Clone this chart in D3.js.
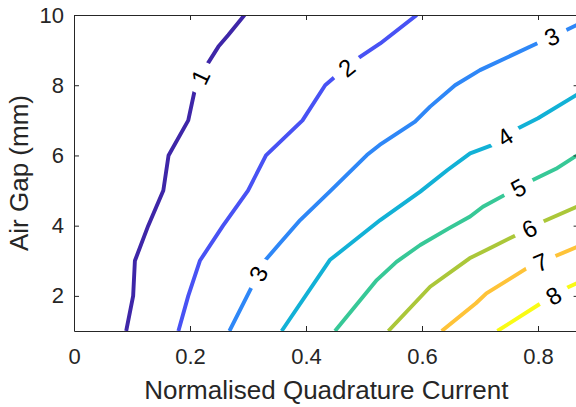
<!DOCTYPE html>
<html>
<head>
<meta charset="utf-8">
<script src="https://cdn.jsdelivr.net/npm/d3@7"></script>
<style>
  html, body { margin: 0; padding: 0; background: #fff; }
  svg { display: block; }
  text { font-family: "Liberation Sans", Arial, Helvetica, sans-serif; }
</style>
</head>
<body>
<svg id="chart" width="576" height="407"></svg>
<script>
// Contour levels and their parula colours
const levels = [1, 2, 3, 4, 5, 6, 7, 8];
const levelColors = ["#3e26a8", "#4852f4", "#2e87f7", "#12b1d6", "#37c897", "#abc739", "#fec338", "#f9fb15"];

// Contour paths: [normalised quadrature current, air gap (mm)]
const contour1 = [[0.090,1],[0.102,2],[0.105,3],[0.128,4],[0.154,5],[0.163,6],[0.197,7],[0.210,8],[0.230,8.6],[0.249,9.1],[0.266,9.43],[0.294,10]];
const contour2 = [[0.180,1],[0.197,2],[0.217,3],[0.257,4],[0.300,5],[0.331,6],[0.394,7],[0.433,8],[0.450,8.24],[0.490,8.77],[0.528,9.19],[0.591,10]];
const contour3 = [[0.268,1],[0.306,2.24],[0.329,3.0],[0.355,3.5],[0.390,4.16],[0.444,5.02],[0.505,6.01],[0.527,6.3],[0.588,6.96],[0.614,7.39],[0.657,8.0],[0.700,8.43],[0.798,9.19],[0.849,9.57],[0.870,9.74]];
const contour4 = [[0.358,1],[0.441,3.02],[0.470,3.40],[0.528,4.16],[0.597,4.97],[0.644,5.585],[0.683,6.06],[0.722,6.30],[0.765,6.77],[0.800,7.06],[0.870,7.76]];
const contour5 = [[0.450,1],[0.522,2.45],[0.556,2.97],[0.597,3.45],[0.647,3.93],[0.683,4.26],[0.705,4.54],[0.742,4.87],[0.791,5.30],[0.831,5.62],[0.870,6.03]];
const contour6 = [[0.542,1],[0.614,2.26],[0.682,3.07],[0.717,3.36],[0.762,3.73],[0.808,4.11],[0.870,4.56]];
const contour7 = [[0.634,1],[0.693,1.79],[0.711,2.07],[0.781,2.79],[0.828,3.12],[0.870,3.41]];
const contour8 = [[0.730,1],[0.805,1.79],[0.848,2.22],[0.870,2.38]];
const contours = [contour1, contour2, contour3, contour4, contour5, contour6, contour7, contour8];

// Inline labels: [level, x, y] where each label sits on its contour
const contourLabels = [[1,0.220,8.21],[2,0.470,8.50],[3,0.318,2.63],[3,0.824,9.38],[4,0.743,6.53],[5,0.766,5.09],[6,0.785,3.92],[7,0.805,2.95],[8,0.827,2.00]];

const xTicks = [0, 0.2, 0.4, 0.6, 0.8];
const yTicks = [2, 4, 6, 8, 10];
const xDomain = [0, 0.87];
const yDomain = [1, 10];
const xTitle = "Normalised Quadrature Current";
const yTitle = "Air Gap (mm)";

const svg = d3.select("#chart");
const axisColor = "#262626";
const plot = { left: 74, right: 578.6, top: 15, bottom: 331 };

const x = d3.scaleLinear().domain(xDomain).range([plot.left, plot.right]);
const y = d3.scaleLinear().domain(yDomain).range([plot.bottom, plot.top]);

const defs = svg.append("defs");
defs.append("clipPath").attr("id", "plot-clip")
  .append("rect")
  .attr("x", plot.left).attr("y", plot.top)
  .attr("width", plot.right - plot.left).attr("height", plot.bottom - plot.top);

// Work out where each label sits and its orientation along the line
function screenPts(c) { return c.map(d => [x(d[0]), y(d[1])]); }
function labelGeometry(pts, px, py) {
  const cum = [0];
  for (let i = 1; i < pts.length; i++) {
    cum.push(cum[i - 1] + Math.hypot(pts[i][0] - pts[i - 1][0], pts[i][1] - pts[i - 1][1]));
  }
  let best = { d: Infinity, L: 0 };
  for (let i = 1; i < pts.length; i++) {
    const [ax, ay] = pts[i - 1], [bx, by] = pts[i];
    const dx = bx - ax, dy = by - ay, len2 = dx * dx + dy * dy;
    let t = len2 ? ((px - ax) * dx + (py - ay) * dy) / len2 : 0;
    t = Math.max(0, Math.min(1, t));
    const qx = ax + t * dx, qy = ay + t * dy;
    const d = Math.hypot(px - qx, py - qy);
    if (d < best.d) best = { d, L: cum[i - 1] + t * Math.sqrt(len2), qx, qy };
  }
  function at(L) {
    L = Math.max(0, Math.min(cum[cum.length - 1], L));
    for (let i = 1; i < pts.length; i++) {
      if (L <= cum[i]) {
        const t = (L - cum[i - 1]) / (cum[i] - cum[i - 1] || 1);
        return [pts[i - 1][0] + t * (pts[i][0] - pts[i - 1][0]), pts[i - 1][1] + t * (pts[i][1] - pts[i - 1][1])];
      }
    }
    return pts[pts.length - 1];
  }
  const p1 = at(best.L - 15), p2 = at(best.L + 15);
  let ang = Math.atan2(p2[1] - p1[1], p2[0] - p1[0]) * 180 / Math.PI;
  if (ang > 90) ang -= 180;
  if (ang < -90) ang += 180;
  return { cx: best.qx, cy: best.qy, ang };
}

const labelInfo = contourLabels.map(([lev, lx, ly]) => {
  const pts = screenPts(contours[levels.indexOf(lev)]);
  return Object.assign({ lev }, labelGeometry(pts, x(lx), y(ly)));
});

// Mask that breaks the lines where labels are written
const mask = defs.append("mask").attr("id", "label-gaps")
  .attr("maskUnits", "userSpaceOnUse")
  .attr("x", 0).attr("y", 0).attr("width", 576).attr("height", 407);
mask.append("rect").attr("x", 0).attr("y", 0).attr("width", 576).attr("height", 407).attr("fill", "#fff");
mask.selectAll("rect.gap").data(labelInfo).join("rect")
  .attr("class", "gap")
  .attr("x", -16).attr("y", -14).attr("width", 32).attr("height", 28)
  .attr("fill", "#000")
  .attr("transform", d => `translate(${d.cx},${d.cy}) rotate(${d.ang})`);

// Contour lines
const line = d3.line().x(d => x(d[0])).y(d => y(d[1]));
svg.append("g")
  .attr("clip-path", "url(#plot-clip)")
  .append("g")
  .attr("mask", "url(#label-gaps)")
  .selectAll("path").data(contours).join("path")
  .attr("d", line)
  .attr("fill", "none")
  .attr("stroke", (d, i) => levelColors[i])
  .attr("stroke-width", 3.9)
  .attr("stroke-linejoin", "round")
  .attr("stroke-linecap", "butt");

// Contour labels
svg.append("g").selectAll("text").data(labelInfo).join("text")
  .attr("transform", d => `translate(${d.cx},${d.cy}) rotate(${d.ang})`)
  .attr("text-anchor", "middle")
  .attr("dy", "0.36em")
  .attr("font-size", 24)
  .attr("fill", "#000")
  .text(d => d.lev);

// Axes (box style, ticks pointing inward)
function styleAxis(g) {
  g.selectAll(".domain").attr("stroke", axisColor).attr("stroke-width", 1);
  g.selectAll(".tick line").attr("stroke", axisColor).attr("stroke-width", 1);
  g.selectAll(".tick text").attr("fill", axisColor).attr("font-size", 22)
    .attr("font-family", '"Liberation Sans", Arial, Helvetica, sans-serif');
}

svg.append("g")
  .attr("transform", `translate(0,${plot.bottom})`)
  .call(d3.axisBottom(x).tickValues(xTicks).tickFormat(d3.format("~g")).tickSize(-5).tickSizeOuter(0).tickPadding(17.4))
  .call(styleAxis);

svg.append("g")
  .attr("transform", `translate(0,${plot.top})`)
  .call(d3.axisTop(x).tickValues(xTicks).tickFormat("").tickSize(-5).tickSizeOuter(0))
  .call(styleAxis);

svg.append("g")
  .attr("transform", `translate(${plot.left},0)`)
  .call(d3.axisLeft(y).tickValues(yTicks).tickFormat(d3.format("~g")).tickSize(-5).tickSizeOuter(0).tickPadding(10))
  .call(styleAxis);

svg.append("g")
  .attr("transform", `translate(${plot.right},0)`)
  .call(d3.axisRight(y).tickValues(yTicks).tickFormat("").tickSize(-5).tickSizeOuter(0))
  .call(styleAxis);

// Axis titles
svg.append("text")
  .attr("x", (plot.left + plot.right) / 2)
  .attr("y", 399)
  .attr("text-anchor", "middle")
  .attr("font-size", 26)
  .attr("fill", axisColor)
  .text(xTitle);

svg.append("text")
  .attr("transform", `translate(28,${(plot.top + plot.bottom) / 2}) rotate(-90)`)
  .attr("text-anchor", "middle")
  .attr("font-size", 26)
  .attr("fill", axisColor)
  .text(yTitle);
</script>
</body>
</html>
